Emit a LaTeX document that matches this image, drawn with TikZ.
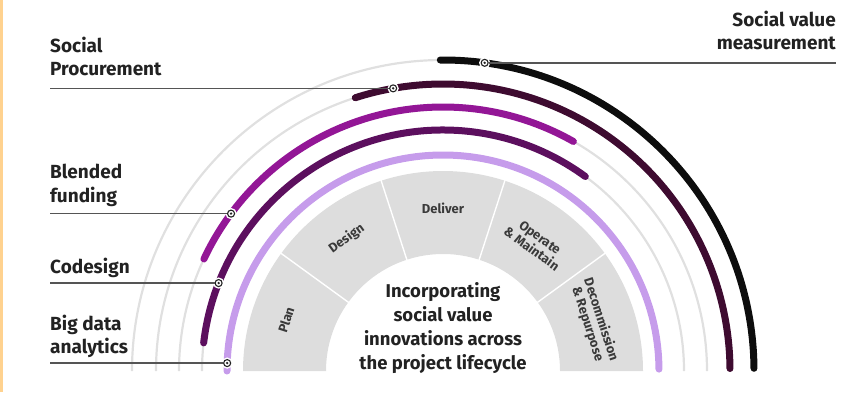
\documentclass[tikz,border=0pt]{standalone}
\usepackage{fontspec}
\setmainfont{Fira Sans}
\definecolor{edgeorange}{HTML}{FFD28F}
\definecolor{trackgray}{HTML}{E0E0E0}
\definecolor{sectorgray}{HTML}{DDDDDD}
\definecolor{lavender}{HTML}{C69CEB}
\definecolor{codesign}{HTML}{5C0F5E}
\definecolor{blended}{HTML}{931696}
\definecolor{procure}{HTML}{3E0B30}
\definecolor{measure}{HTML}{0D0D0D}
\definecolor{leadergray}{HTML}{555555}
\definecolor{labeltext}{HTML}{222222}
\definecolor{segtext}{HTML}{3A3A3A}
\begin{document}
\begin{tikzpicture}[x=1pt,y=1pt,
  track/.style={draw=trackgray, line width=2.2pt},
  band/.style={line width=7pt, line cap=round},
  dot/.style={circle, fill=white, draw=labeltext, line width=1.1pt,
    minimum size=7pt, inner sep=0pt,
    preaction={draw=white, line width=4pt},
    path picture={\fill[labeltext] (path picture bounding box.center) circle[radius=1.3pt];}},
  leader/.style={draw=leadergray, line width=1.6pt},
  lab/.style={font=\fontsize{19}{23}\selectfont\bfseries, text=labeltext, inner sep=0pt},
  seg/.style={font=\fontsize{13}{14}\selectfont\bfseries, text=segtext, inner sep=0pt, align=center},
  ctr/.style={font=\fontsize{18.5}{24}\selectfont\bfseries, text=labeltext, inner sep=0pt, align=center},
]
% canvas and left edge strip
\useasboundingbox (0,0) rectangle (845,392);
\fill[edgeorange] (0,0) rectangle (2.5,392);

\coordinate (C) at (443,21);

% lifecycle sectors
\fill[sectorgray] ([shift={(180:200)}]C) arc[start angle=180, end angle=0, radius=200]
  -- ([shift={(0:117)}]C) arc[start angle=0, end angle=180, radius=117] -- cycle;
\foreach \a in {36,72,108,144}
  \draw[white, line width=1.4pt] ([shift={(\a:116)}]C) -- ([shift={(\a:201)}]C);

\node[seg, rotate=72]  (sPlan)    at ([shift={(162:165)}]C) {Plan};
\node[seg, rotate=36]  (sDesign)  at ([shift={(126:164)}]C) {Design};
\node[seg]             (sDeliver) at ([shift={(90:163)}]C)  {Deliver};
\node[seg, rotate=-36] (sOperate) at ([shift={(54:158)}]C)  {Operate\\\& Maintain};
\node[seg, rotate=-72] (sDecom)   at ([shift={(18:159)}]C)  {Decommission\\\& Repurpose};

\node[ctr, anchor=north] (title) at (443,110)
  {Incorporating\\social value\\innovations across\\the project lifecycle};

% background tracks
\foreach \r in {241,264,287,311}
  \draw[track] ([shift={(180:\r)}]C) arc[start angle=180, end angle=0, radius=\r];

% innovation bands
\draw[band, lavender] ([shift={(180:216)}]C) arc[start angle=180, end angle=0.5, radius=216];
\draw[band, codesign] ([shift={(173.3:241)}]C) arc[start angle=173.3, end angle=53.8, radius=241];
\draw[band, blended]  ([shift={(154.9:264)}]C) arc[start angle=154.9, end angle=60.4, radius=264];
\draw[band, procure]  ([shift={(107.8:287)}]C) arc[start angle=107.8, end angle=0.5, radius=287];
\draw[band, measure]  ([shift={(90.5:311)}]C)  arc[start angle=90.5, end angle=0.5, radius=311];

% markers on the bands
\node[dot] (dBig)   at ([shift={(177.9:216)}]C) {};
\node[dot] (dCode)  at ([shift={(158.6:241)}]C) {};
\node[dot] (dBlend) at ([shift={(143.4:264)}]C) {};
\node[dot] (dProc)  at ([shift={(100:287)}]C)   {};
\node[dot] (dMeas)  at ([shift={(82.3:311)}]C)  {};

% labels
\coordinate (leftEdge)  at (50,0);
\coordinate (rightEdge) at (836,0);

\node[lab, anchor=base west] (lProcA) at (50,340) {Social};
\node[lab, anchor=base west] (lProcB) at (50,317) {Procurement};
\node[lab, anchor=base west] (lBlendA) at (50,214) {Blended};
\node[lab, anchor=base west] (lBlendB) at (50,190) {funding};
\node[lab, anchor=base west] (lCode) at (50,119) {Codesign};
\node[lab, anchor=base west] (lBigA) at (50,62) {Big data};
\node[lab, anchor=base west] (lBigB) at (50,39) {analytics};
\node[lab, anchor=base east] (lMeasA) at (836,365) {Social value};
\node[lab, anchor=base east] (lMeasB) at (836,342) {measurement};

% leader lines
\draw[leader] (dProc)  -- (dProc -| leftEdge);
\draw[leader] (dBlend) -- (dBlend -| leftEdge);
\draw[leader] (dCode)  -- (dCode -| leftEdge);
\draw[leader] (dBig)   -- (dBig -| leftEdge);
\draw[leader] (dMeas)  -- (dMeas -| rightEdge);
\end{tikzpicture}
\end{document}
